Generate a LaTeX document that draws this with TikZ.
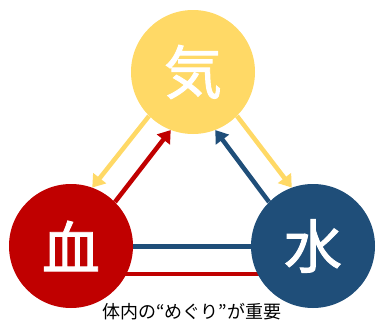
\documentclass[tikz,border=0pt]{standalone}
\usepackage{fontspec}
\setmainfont{Noto Sans CJK JP}
\newfontfamily\circfont[FakeBold=1.6]{Noto Sans CJK JP}
\usetikzlibrary{arrows.meta}
\definecolor{qiY}{HTML}{FFD966}
\definecolor{keR}{HTML}{C00000}
\definecolor{suB}{HTML}{1F4E79}
\tikzset{
  bigc/.style={circle, minimum size=124pt, inner sep=0pt, text=white, font=\circfont\fontsize{58}{60}\selectfont},
  conn/.style={line width=4.5pt, -{Triangle[width=16pt,length=12pt]}},
  flat/.style={line width=4.5pt}
}
\begin{document}
\begin{tikzpicture}[x=1pt,y=1pt]
\useasboundingbox (0,0) rectangle (376,325);
\path (193,253) coordinate (qc) (71,79) coordinate (kc) (313,79) coordinate (sc);
\node[bigc] (qi) at (qc) {};
\node[bigc] (ke) at (kc) {};
\node[bigc] (su) at (sc) {};
% connectors
\draw[conn, qiY] (qi.225) -- (ke.70);
\draw[conn, keR] (ke.45) -- (qi.249);
\draw[conn, qiY] (qi.315) -- (su.110);
\draw[conn, suB] (su.135) -- (qi.291);
\draw[flat, suB, line width=5pt] (ke.center) -- (su.center);
\draw[flat, keR, line width=4pt] ([yshift=-28pt]ke.center) -- ([yshift=-28pt]su.center);
% circles on top
\fill[qiY] (qi) circle (62pt);
\fill[keR] (ke) circle (62pt);
\fill[suB] (su) circle (62pt);
\node[bigc] at (qc) {気};
\node[bigc] at (kc) {血};
\node[bigc] at (sc) {水};
\node[font=\fontsize{18}{20}\selectfont] (cap) at (192,13) {体内の“めぐり”が重要};
\end{tikzpicture}
\end{document}
